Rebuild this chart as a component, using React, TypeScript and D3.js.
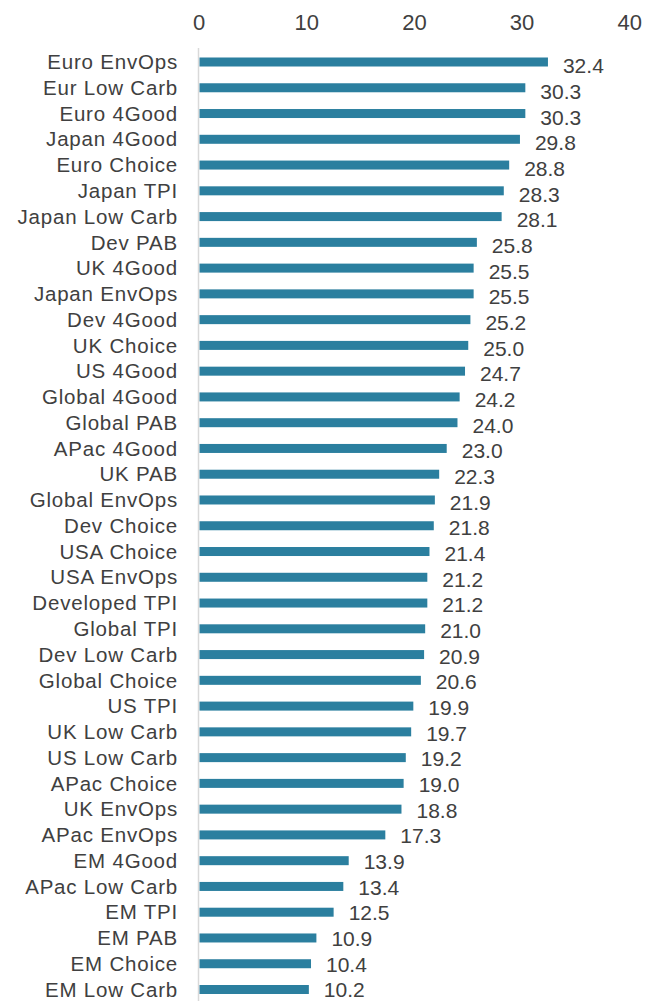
import React from "react";
import * as d3 from "d3";

const categories: string[] = [
  "Euro EnvOps", "Eur Low Carb", "Euro 4Good", "Japan 4Good", "Euro Choice",
  "Japan TPI", "Japan Low Carb", "Dev PAB", "UK 4Good", "Japan EnvOps",
  "Dev 4Good", "UK Choice", "US 4Good", "Global 4Good", "Global PAB",
  "APac 4Good", "UK PAB", "Global EnvOps", "Dev Choice", "USA Choice",
  "USA EnvOps", "Developed TPI", "Global TPI", "Dev Low Carb", "Global Choice",
  "US TPI", "UK Low Carb", "US Low Carb", "APac Choice", "UK EnvOps",
  "APac EnvOps", "EM 4Good", "APac Low Carb", "EM TPI", "EM PAB",
  "EM Choice", "EM Low Carb",
];

const values: number[] = [
  32.4, 30.3, 30.3, 29.8, 28.8,
  28.3, 28.1, 25.8, 25.5, 25.5,
  25.2, 25.0, 24.7, 24.2, 24.0,
  23.0, 22.3, 21.9, 21.8, 21.4,
  21.2, 21.2, 21.0, 20.9, 20.6,
  19.9, 19.7, 19.2, 19.0, 18.8,
  17.3, 13.9, 13.4, 12.5, 10.9,
  10.4, 10.2,
];

const xTicks: number[] = [0, 10, 20, 30, 40];

const W = 658;
const H = 1001;
const FONT = "'Liberation Sans', Arial, sans-serif";
const TEXT = "#404040";
const BAR = "#2b7f9f";

export default function App() {
  const x = d3.scaleLinear().domain([0, 40]).range([199, 629.8]);
  const y = d3.scalePoint<string>().domain(categories).range([62, 989.5]);
  const yLab = d3.scalePoint<string>().domain(categories).range([66, 990]);
  const barH = 9;

  return (
    <svg
      width={W}
      height={H}
      style={{ position: "absolute", left: 0, top: 0, background: "#fff" }}
      fontFamily={FONT}
    >
      {xTicks.map((t) => (
        <text
          key={t}
          x={x(t)}
          y={30}
          textAnchor="middle"
          fontSize={22}
          fill={TEXT}
        >
          {t}
        </text>
      ))}
      <line x1={198.5} x2={198.5} y1={48} y2={H} stroke="#d9d9d9" strokeWidth={1.5} />
      {categories.map((c, i) => {
        const cy = y(c) as number;
        return (
          <g key={c}>
            <rect
              x={x(0) + 0.5}
              y={cy - barH / 2}
              width={x(values[i]) - x(0) - 0.5}
              height={barH}
              fill={BAR}
            />
            <text
              x={178}
              y={cy}
              dy="0.35em"
              textAnchor="end"
              fontSize={20.5}
              letterSpacing={0.8}
              fill={TEXT}
            >
              {c}
            </text>
            <text
              x={x(values[i]) + 15}
              y={yLab(c) as number}
              dy="0.35em"
              textAnchor="start"
              fontSize={21}
              fill={TEXT}
            >
              {values[i].toFixed(1)}
            </text>
          </g>
        );
      })}
    </svg>
  );
}
